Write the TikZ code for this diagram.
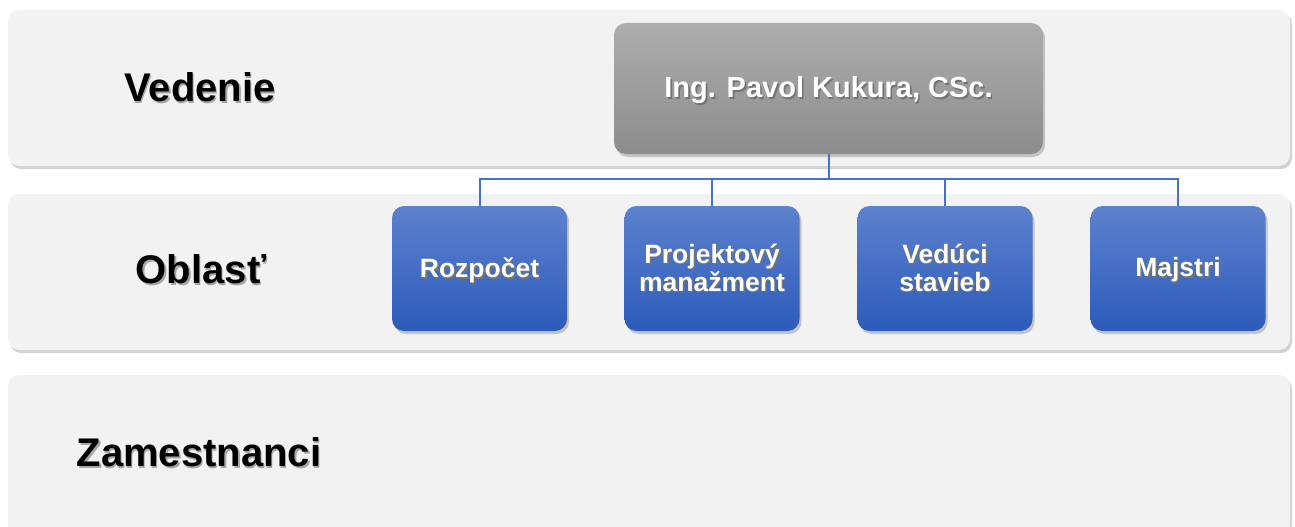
\documentclass[tikz,border=0pt]{standalone}
\usepackage{fontspec}
\setmainfont{Liberation Sans}
\usetikzlibrary{shadows}
\definecolor{bandfill}{HTML}{F2F2F2}
\definecolor{conncol}{HTML}{4472C4}
\definecolor{bluetop}{RGB}{93,130,206}
\definecolor{bluebot}{RGB}{44,91,186}
\definecolor{graytop}{RGB}{173,173,173}
\definecolor{graybot}{RGB}{140,140,140}
\newcommand\shw[1]{\makebox[0pt][l]{\hspace{1.6pt}\raisebox{-1.8pt}{\color{black!55}#1}}#1}
\newcommand\shb[1]{\makebox[0pt][l]{\hspace{1.4pt}\raisebox{-1.6pt}{\color{black!35}#1}}#1}
\newcommand\lowered[1]{\raisebox{-2.5pt}[\height][\depth]{#1}}
\tikzset{
  band/.style={rounded corners=11pt, fill=bandfill, draw=none, inner sep=0pt,
    minimum width=1282pt, minimum height=156pt,
    drop shadow={opacity=0.35, shadow xshift=2pt, shadow yshift=-3pt}},
  rowlabel/.style={font=\fontsize{40}{44}\selectfont\bfseries, text=black, inner sep=0pt},
  headbox/.style={rounded corners=12pt, top color=graytop, bottom color=graybot, draw=none,
    minimum width=429pt, minimum height=131pt, inner sep=0pt,
    font=\fontsize{29}{33}\selectfont\bfseries, text=white,
    drop shadow={opacity=0.4, shadow xshift=2pt, shadow yshift=-3pt}},
  unitbox/.style={rounded corners=12pt, top color=bluetop, bottom color=bluebot, draw=none,
    minimum width=175pt, minimum height=125pt, inner sep=0pt, align=center,
    font=\fontsize{26.5}{28}\selectfont\bfseries, text=white,
    drop shadow={opacity=0.4, shadow xshift=2pt, shadow yshift=-3pt}},
  conn/.style={draw=conncol, line width=2pt}
}
\begin{document}
\begin{tikzpicture}[x=1pt, y=-1pt]
\useasboundingbox (0,0) rectangle (1295,527);
\fill[white] (0,0) rectangle (1295,527);
% bands
\node[band] (b1) at (649,88) {};
\node[band] (b2) at (649,272) {};
\node[band, minimum height=162pt] (b3) at (649,456) {};
% row labels
\node[rowlabel] (l1) at (200,88) {\shb{Vedenie}};
\node[rowlabel] (l2) at (201,270) {\shb{Oblasť}};
\node[rowlabel] (l3) at (199,453) {\shb{Zamestnanci}};
% boxes
\node[headbox] (top) at (828.5,88.5) {\lowered{\shw{Ing. Pavol Kukura, CSc.}}};
\node[unitbox] (u1) at (479.5,268.5) {\lowered{\shw{Rozpočet}}};
\node[unitbox] (u2) at (712,268.5) {\shw{Projektový}\\\shw{manažment}};
\node[unitbox] (u3) at (945,268.5) {\shw{Vedúci}\\\shw{stavieb}};
\node[unitbox] (u4) at (1178,268.5) {\lowered{\shw{Majstri}}};
% connectors
\draw[conn] (top.south) -- ++(0,25) -| (u1.north);
\draw[conn] (top.south) -- ++(0,25) -| (u2.north);
\draw[conn] (top.south) -- ++(0,25) -| (u3.north);
\draw[conn] (top.south) -- ++(0,25) -| (u4.north);
\end{tikzpicture}
\end{document}
